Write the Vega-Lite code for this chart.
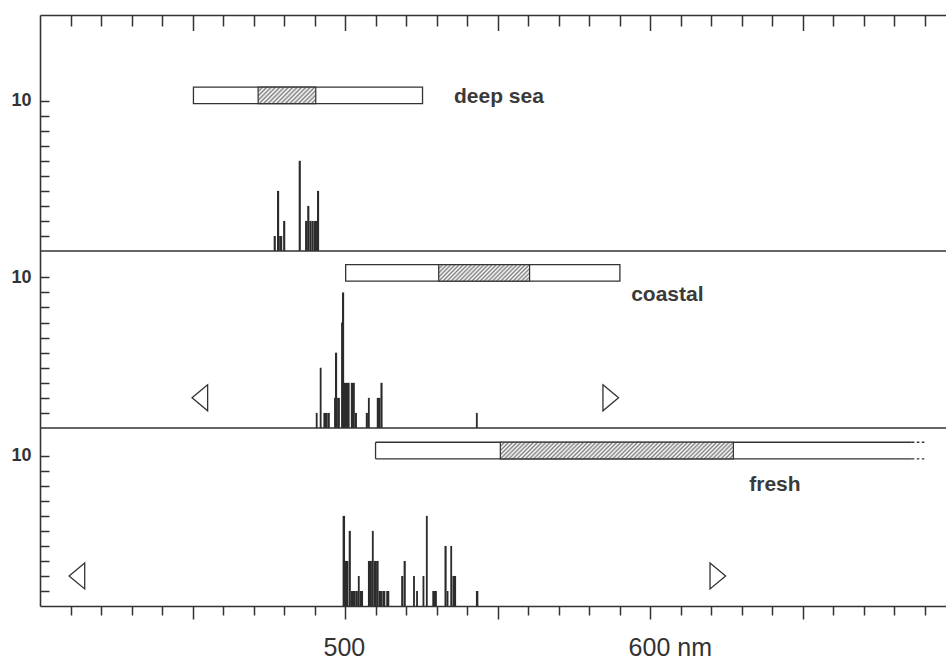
{
  "$schema": "https://vega.github.io/schema/vega-lite/v6.json",
  "background": "white",
  "padding": {"left": 10, "top": 14, "right": 0, "bottom": 0},
  "spacing": 0,
  "bounds": "flush",
  "resolve": {"scale": {"y": "independent"}},
  "config": {
    "view": {"stroke": null},
    "font": "Liberation Sans",
    "axis": {"grid": false, "domainColor": "#333", "domainWidth": 1.6, "tickColor": "#333", "tickWidth": 1.5, "labelColor": "#333", "labelFont": "Liberation Sans"}
  },
  "datasets": {
    "frameticks": [
      {"nm": 410}, {"nm": 420}, {"nm": 430}, {"nm": 440}, {"nm": 450}, {"nm": 460}, {"nm": 470}, {"nm": 480}, {"nm": 490}, {"nm": 500},
      {"nm": 510}, {"nm": 520}, {"nm": 530}, {"nm": 540}, {"nm": 550}, {"nm": 560}, {"nm": 570}, {"nm": 580}, {"nm": 590}, {"nm": 600},
      {"nm": 610}, {"nm": 620}, {"nm": 630}, {"nm": 640}, {"nm": 650}, {"nm": 660}, {"nm": 670}, {"nm": 680}, {"nm": 690}
    ],
    "bars": [
      {"panel": "deep sea", "lo": 476.6, "hi": 477.3, "n": 1},
      {"panel": "deep sea", "lo": 477.7, "hi": 478.4, "n": 4},
      {"panel": "deep sea", "lo": 478.4, "hi": 479.4, "n": 1},
      {"panel": "deep sea", "lo": 479.7, "hi": 480.4, "n": 2},
      {"panel": "deep sea", "lo": 484.8, "hi": 485.5, "n": 6},
      {"panel": "deep sea", "lo": 486.9, "hi": 487.7, "n": 2},
      {"panel": "deep sea", "lo": 487.6, "hi": 488.3, "n": 3},
      {"panel": "deep sea", "lo": 488.3, "hi": 489.0, "n": 2},
      {"panel": "deep sea", "lo": 489.0, "hi": 489.7, "n": 2},
      {"panel": "deep sea", "lo": 489.7, "hi": 490.8, "n": 2},
      {"panel": "deep sea", "lo": 490.8, "hi": 491.5, "n": 4},
      {"panel": "coastal", "lo": 490.4, "hi": 491.0, "n": 1},
      {"panel": "coastal", "lo": 491.7, "hi": 492.3, "n": 4},
      {"panel": "coastal", "lo": 492.9, "hi": 494.2, "n": 1},
      {"panel": "coastal", "lo": 494.2, "hi": 495.0, "n": 1},
      {"panel": "coastal", "lo": 496.4, "hi": 497.2, "n": 2},
      {"panel": "coastal", "lo": 496.7, "hi": 497.4, "n": 5},
      {"panel": "coastal", "lo": 497.4, "hi": 498.3, "n": 2},
      {"panel": "coastal", "lo": 498.7, "hi": 499.3, "n": 7},
      {"panel": "coastal", "lo": 499.0, "hi": 499.7, "n": 9},
      {"panel": "coastal", "lo": 499.3, "hi": 501.5, "n": 3},
      {"panel": "coastal", "lo": 501.9, "hi": 503.2, "n": 3},
      {"panel": "coastal", "lo": 503.2, "hi": 503.9, "n": 1},
      {"panel": "coastal", "lo": 506.8, "hi": 507.5, "n": 1},
      {"panel": "coastal", "lo": 507.5, "hi": 508.1, "n": 2},
      {"panel": "coastal", "lo": 510.4, "hi": 511.6, "n": 2},
      {"panel": "coastal", "lo": 511.6, "hi": 512.3, "n": 3},
      {"panel": "coastal", "lo": 542.9, "hi": 543.5, "n": 1},
      {"panel": "fresh", "lo": 499.2, "hi": 500.0, "n": 6},
      {"panel": "fresh", "lo": 499.6, "hi": 501.1, "n": 3},
      {"panel": "fresh", "lo": 501.2, "hi": 501.9, "n": 5},
      {"panel": "fresh", "lo": 501.9, "hi": 503.5, "n": 1},
      {"panel": "fresh", "lo": 503.5, "hi": 504.2, "n": 1},
      {"panel": "fresh", "lo": 504.2, "hi": 504.8, "n": 2},
      {"panel": "fresh", "lo": 504.8, "hi": 505.9, "n": 1},
      {"panel": "fresh", "lo": 507.5, "hi": 508.8, "n": 3},
      {"panel": "fresh", "lo": 508.8, "hi": 509.4, "n": 5},
      {"panel": "fresh", "lo": 509.4, "hi": 510.3, "n": 3},
      {"panel": "fresh", "lo": 510.2, "hi": 511.0, "n": 3},
      {"panel": "fresh", "lo": 511.0, "hi": 512.1, "n": 1},
      {"panel": "fresh", "lo": 512.2, "hi": 513.2, "n": 1},
      {"panel": "fresh", "lo": 513.5, "hi": 514.5, "n": 1},
      {"panel": "fresh", "lo": 518.4, "hi": 519.1, "n": 2},
      {"panel": "fresh", "lo": 519.2, "hi": 519.9, "n": 3},
      {"panel": "fresh", "lo": 522.3, "hi": 522.9, "n": 2},
      {"panel": "fresh", "lo": 523.3, "hi": 523.9, "n": 1},
      {"panel": "fresh", "lo": 525.4, "hi": 526.0, "n": 2},
      {"panel": "fresh", "lo": 526.5, "hi": 527.1, "n": 6},
      {"panel": "fresh", "lo": 528.6, "hi": 530.1, "n": 1},
      {"panel": "fresh", "lo": 532.6, "hi": 533.3, "n": 4},
      {"panel": "fresh", "lo": 533.3, "hi": 533.9, "n": 1},
      {"panel": "fresh", "lo": 534.5, "hi": 535.1, "n": 4},
      {"panel": "fresh", "lo": 535.2, "hi": 536.4, "n": 2},
      {"panel": "fresh", "lo": 542.9, "hi": 543.7, "n": 1}
    ],
    "boxes": [
      {"panel": "deep sea", "lo": 450.3, "h1": 471.5, "h2": 490.4, "hi": 525.4, "end": 525.4},
      {"panel": "coastal", "lo": 500.2, "h1": 530.7, "h2": 560.5, "hi": 590.1, "end": 590.1},
      {"panel": "fresh", "lo": 510.0, "h1": 550.9, "h2": 627.3, "hi": 685.8, "end": 690.1}
    ],
    "tri": [
      {"panel": "coastal", "nm": 452.4, "n": 2, "side": "left"},
      {"panel": "coastal", "nm": 587.1, "n": 2, "side": "right"},
      {"panel": "fresh", "nm": 412.1, "n": 2, "side": "left"},
      {"panel": "fresh", "nm": 622.2, "n": 2, "side": "right"}
    ]
  },
  "vconcat": [
    {
      "width": 906,
      "height": 1,
      "data": {"name": "frameticks"},
      "mark": {"type": "rule", "opacity": 0},
      "encoding": {
        "x": {"field": "nm", "type": "quantitative", "title": null,
          "scale": {"domain": [400, 697], "nice": false, "zero": false},
          "axis": {"orient": "bottom", "tickCount": 100, "values": [410,420,430,440,450,460,470,480,490,500,510,520,530,540,550,560,570,580,590,600,610,620,630,640,650,660,670,680,690], "labelOpacity": 0, "labelFontSize": 8, "labelFlush": false, "labelOverlap": false, "tickSize": {"condition": {"test": "datum.value % 50 === 0", "value": 15.5}, "value": 11}}},
        "y": {"datum": 0, "type": "quantitative", "title": null, "scale": {"domain": [0, 1]}, "axis": null}
      }
    },
    {
      "width": 906,
      "height": 236,
      "layer": [
        {
          "data": {"name": "bars"},
          "transform": [{"filter": "datum.panel === 'deep sea'"}],
          "mark": {"type": "bar", "color": "#2b2b2b"},
          "encoding": {
            "x": {"field": "lo", "type": "quantitative", "title": null,
              "scale": {"domain": [400, 697], "nice": false, "zero": false}, "axis": null},
            "x2": {"field": "hi"},
            "y": {"field": "n", "type": "quantitative", "title": null,
              "scale": {"domain": [0, 15.7], "nice": false},
              "axis": {"tickCount": 100, "values": [1,2,3,4,5,6,7,8,9,10], "labelExpr": "datum.value === 10 ? '10' : ''", "tickSize": -9, "labelPadding": 18, "labelFontSize": 18, "labelFontWeight": "bold"}},
            "y2": {"datum": 0}
          }
        },
        {
          "data": {"values": [{}]},
          "mark": {"type": "rule", "color": "#333", "strokeWidth": 1.6},
          "encoding": {"y": {"datum": 0, "type": "quantitative", "title": null}}
        },
        {
          "data": {"name": "boxes"},
          "transform": [{"filter": "datum.panel === 'deep sea'"}],
          "mark": {"type": "rect", "fill": "white", "stroke": "#333", "strokeWidth": 1.3},
          "encoding": {
            "x": {"field": "lo", "type": "quantitative", "title": null, "axis": null},
            "x2": {"field": "hi"},
            "y": {"datum": 9.8, "type": "quantitative", "title": null},
            "y2": {"datum": 10.9}
          }
        },
        {
          "data": {"name": "boxes"},
          "transform": [{"filter": "datum.panel === 'deep sea'"}],
          "mark": {"type": "rect", "stroke": "#333", "strokeWidth": 1.2,
            "fill": {"gradient": "linear", "x1": 0, "y1": 0, "x2": 1.188, "y2": 0.338, "stops": [
              {"offset":0,"color":"#808080"},{"offset":0.0294,"color":"#fff"},{"offset":0.0588,"color":"#808080"},{"offset":0.0882,"color":"#fff"},{"offset":0.1176,"color":"#808080"},{"offset":0.1471,"color":"#fff"},{"offset":0.1765,"color":"#808080"},{"offset":0.2059,"color":"#fff"},{"offset":0.2353,"color":"#808080"},{"offset":0.2647,"color":"#fff"},{"offset":0.2941,"color":"#808080"},{"offset":0.3235,"color":"#fff"},{"offset":0.3529,"color":"#808080"},{"offset":0.3824,"color":"#fff"},{"offset":0.4118,"color":"#808080"},{"offset":0.4412,"color":"#fff"},{"offset":0.4706,"color":"#808080"},{"offset":0.5,"color":"#fff"},{"offset":0.5294,"color":"#808080"},{"offset":0.5588,"color":"#fff"},{"offset":0.5882,"color":"#808080"},{"offset":0.6176,"color":"#fff"},{"offset":0.6471,"color":"#808080"},{"offset":0.6765,"color":"#fff"},{"offset":0.7059,"color":"#808080"},{"offset":0.7353,"color":"#fff"},{"offset":0.7647,"color":"#808080"},{"offset":0.7941,"color":"#fff"},{"offset":0.8235,"color":"#808080"},{"offset":0.8529,"color":"#fff"},{"offset":0.8824,"color":"#808080"},{"offset":0.9118,"color":"#fff"},{"offset":0.9412,"color":"#808080"},{"offset":0.9706,"color":"#fff"},{"offset":1,"color":"#808080"}
            ]}},
          "encoding": {
            "x": {"field": "h1", "type": "quantitative", "title": null, "axis": null},
            "x2": {"field": "h2"},
            "y": {"datum": 9.8, "type": "quantitative", "title": null},
            "y2": {"datum": 10.9}
          }
        },
        {
          "data": {"values": [{}]},
          "mark": {"type": "text", "text": "deep sea", "align": "left", "baseline": "middle", "font": "Liberation Sans", "fontWeight": "bold", "fontSize": 21, "color": "#3a3a3a"},
          "encoding": {
            "x": {"datum": 535.7, "type": "quantitative", "title": null, "axis": null},
            "y": {"datum": 10.25, "type": "quantitative", "title": null}
          }
        }
      ]
    },
    {
      "width": 906,
      "height": 177,
      "layer": [
        {
          "data": {"name": "bars"},
          "transform": [{"filter": "datum.panel === 'coastal'"}],
          "mark": {"type": "bar", "color": "#2b2b2b"},
          "encoding": {
            "x": {"field": "lo", "type": "quantitative", "title": null,
              "scale": {"domain": [400, 697], "nice": false, "zero": false}, "axis": null},
            "x2": {"field": "hi"},
            "y": {"field": "n", "type": "quantitative", "title": null,
              "scale": {"domain": [0, 11.75], "nice": false},
              "axis": {"tickCount": 100, "values": [1,2,3,4,5,6,7,8,9,10], "labelExpr": "datum.value === 10 ? '10' : ''", "tickSize": -9, "labelPadding": 18, "labelFontSize": 18, "labelFontWeight": "bold"}},
            "y2": {"datum": 0}
          }
        },
        {
          "data": {"values": [{}]},
          "mark": {"type": "rule", "color": "#333", "strokeWidth": 1.6},
          "encoding": {"y": {"datum": 0, "type": "quantitative", "title": null}}
        },
        {
          "data": {"name": "boxes"},
          "transform": [{"filter": "datum.panel === 'coastal'"}],
          "mark": {"type": "rect", "fill": "white", "stroke": "#333", "strokeWidth": 1.3},
          "encoding": {
            "x": {"field": "lo", "type": "quantitative", "title": null, "axis": null},
            "x2": {"field": "hi"},
            "y": {"datum": 9.75, "type": "quantitative", "title": null},
            "y2": {"datum": 10.85}
          }
        },
        {
          "data": {"name": "boxes"},
          "transform": [{"filter": "datum.panel === 'coastal'"}],
          "mark": {"type": "rect", "stroke": "#333", "strokeWidth": 1.2,
            "fill": {"gradient": "linear", "x1": 0, "y1": 0, "x2": 1.143, "y2": 0.206, "stops": [
              {"offset":0,"color":"#808080"},{"offset":0.0192,"color":"#fff"},{"offset":0.0385,"color":"#808080"},{"offset":0.0577,"color":"#fff"},{"offset":0.0769,"color":"#808080"},{"offset":0.0962,"color":"#fff"},{"offset":0.1154,"color":"#808080"},{"offset":0.1346,"color":"#fff"},{"offset":0.1538,"color":"#808080"},{"offset":0.1731,"color":"#fff"},{"offset":0.1923,"color":"#808080"},{"offset":0.2115,"color":"#fff"},{"offset":0.2308,"color":"#808080"},{"offset":0.25,"color":"#fff"},{"offset":0.2692,"color":"#808080"},{"offset":0.2885,"color":"#fff"},{"offset":0.3077,"color":"#808080"},{"offset":0.3269,"color":"#fff"},{"offset":0.3462,"color":"#808080"},{"offset":0.3654,"color":"#fff"},{"offset":0.3846,"color":"#808080"},{"offset":0.4038,"color":"#fff"},{"offset":0.4231,"color":"#808080"},{"offset":0.4423,"color":"#fff"},{"offset":0.4615,"color":"#808080"},{"offset":0.4808,"color":"#fff"},{"offset":0.5,"color":"#808080"},{"offset":0.5192,"color":"#fff"},{"offset":0.5385,"color":"#808080"},{"offset":0.5577,"color":"#fff"},{"offset":0.5769,"color":"#808080"},{"offset":0.5962,"color":"#fff"},{"offset":0.6154,"color":"#808080"},{"offset":0.6346,"color":"#fff"},{"offset":0.6538,"color":"#808080"},{"offset":0.6731,"color":"#fff"},{"offset":0.6923,"color":"#808080"},{"offset":0.7115,"color":"#fff"},{"offset":0.7308,"color":"#808080"},{"offset":0.75,"color":"#fff"},{"offset":0.7692,"color":"#808080"},{"offset":0.7885,"color":"#fff"},{"offset":0.8077,"color":"#808080"},{"offset":0.8269,"color":"#fff"},{"offset":0.8462,"color":"#808080"},{"offset":0.8654,"color":"#fff"},{"offset":0.8846,"color":"#808080"},{"offset":0.9038,"color":"#fff"},{"offset":0.9231,"color":"#808080"},{"offset":0.9423,"color":"#fff"},{"offset":0.9615,"color":"#808080"},{"offset":0.9808,"color":"#fff"},{"offset":1,"color":"#808080"}
            ]}},
          "encoding": {
            "x": {"field": "h1", "type": "quantitative", "title": null, "axis": null},
            "x2": {"field": "h2"},
            "y": {"datum": 9.75, "type": "quantitative", "title": null},
            "y2": {"datum": 10.85}
          }
        },
        {
          "data": {"name": "tri"},
          "transform": [{"filter": "datum.panel === 'coastal'"}],
          "mark": {"type": "point", "filled": false, "size": 676, "stroke": "#333", "strokeWidth": 1.3, "opacity": 1},
          "encoding": {
            "x": {"field": "nm", "type": "quantitative", "title": null, "axis": null},
            "y": {"field": "n", "type": "quantitative", "title": null},
            "shape": {"field": "side", "type": "nominal", "legend": null,
              "scale": {"domain": ["left", "right"], "range": ["M0.6,-1L-0.6,0L0.6,1Z", "M-0.6,-1L0.6,0L-0.6,1Z"]}}
          }
        },
        {
          "data": {"values": [{}]},
          "mark": {"type": "text", "text": "coastal", "align": "left", "baseline": "middle", "font": "Liberation Sans", "fontWeight": "bold", "fontSize": 21, "color": "#3a3a3a"},
          "encoding": {
            "x": {"datum": 593.8, "type": "quantitative", "title": null, "axis": null},
            "y": {"datum": 8.8, "type": "quantitative", "title": null}
          }
        }
      ]
    },
    {
      "width": 906,
      "height": 178,
      "layer": [
        {
          "data": {"name": "bars"},
          "transform": [{"filter": "datum.panel === 'fresh'"}],
          "mark": {"type": "bar", "color": "#2b2b2b"},
          "encoding": {
            "x": {"field": "lo", "type": "quantitative", "title": null,
              "scale": {"domain": [400, 697], "nice": false, "zero": false},
              "axis": {"orient": "bottom", "tickCount": 100, "values": [410,420,430,440,450,460,470,480,490,500,510,520,530,540,550,560,570,580,590,600,610,620,630,640,650,660,670,680,690], "labelExpr": "datum.value === 500 ? '500' : datum.value === 600 ? '600 nm' : ''", "labelAlign": "left", "labelOffset": -22, "labelFontSize": 25, "labelBaseline": "top", "labelPadding": 16, "labelFlush": false, "labelOverlap": false, "tickSize": {"condition": {"test": "datum.value % 50 === 0", "value": 13}, "value": 9}}},
            "x2": {"field": "hi"},
            "y": {"field": "n", "type": "quantitative", "title": null,
              "scale": {"domain": [0, 11.85], "nice": false},
              "axis": {"tickCount": 100, "values": [1,2,3,4,5,6,7,8,9,10], "labelExpr": "datum.value === 10 ? '10' : ''", "tickSize": -9, "labelPadding": 18, "labelFontSize": 18, "labelFontWeight": "bold"}},
            "y2": {"datum": 0}
          }
        },
        {
          "data": {"name": "boxes"},
          "transform": [{"filter": "datum.panel === 'fresh'"}],
          "mark": {"type": "rule", "color": "#333", "strokeWidth": 1.3},
          "encoding": {
            "x": {"field": "lo", "type": "quantitative", "title": null},
            "x2": {"field": "hi"},
            "y": {"datum": 10.9, "type": "quantitative", "title": null}
          }
        },
        {
          "data": {"name": "boxes"},
          "transform": [{"filter": "datum.panel === 'fresh'"}],
          "mark": {"type": "rule", "color": "#333", "strokeWidth": 1.3},
          "encoding": {
            "x": {"field": "lo", "type": "quantitative", "title": null},
            "x2": {"field": "hi"},
            "y": {"datum": 9.8, "type": "quantitative", "title": null}
          }
        },
        {
          "data": {"name": "boxes"},
          "transform": [{"filter": "datum.panel === 'fresh'"}],
          "mark": {"type": "rule", "color": "#333", "strokeWidth": 1.3},
          "encoding": {
            "x": {"field": "lo", "type": "quantitative", "title": null},
            "y": {"datum": 9.8, "type": "quantitative", "title": null},
            "y2": {"datum": 10.9}
          }
        },
        {
          "data": {"name": "boxes"},
          "transform": [{"filter": "datum.panel === 'fresh'"}],
          "mark": {"type": "rule", "color": "#333", "strokeWidth": 1.3, "strokeDash": [2.5, 2.5]},
          "encoding": {
            "x": {"field": "hi", "type": "quantitative", "title": null},
            "x2": {"field": "end"},
            "y": {"datum": 10.9, "type": "quantitative", "title": null}
          }
        },
        {
          "data": {"name": "boxes"},
          "transform": [{"filter": "datum.panel === 'fresh'"}],
          "mark": {"type": "rule", "color": "#333", "strokeWidth": 1.3, "strokeDash": [2.5, 2.5]},
          "encoding": {
            "x": {"field": "hi", "type": "quantitative", "title": null},
            "x2": {"field": "end"},
            "y": {"datum": 9.8, "type": "quantitative", "title": null}
          }
        },
        {
          "data": {"name": "boxes"},
          "transform": [{"filter": "datum.panel === 'fresh'"}],
          "mark": {"type": "rect", "stroke": "#333", "strokeWidth": 1.2,
            "fill": {"gradient": "linear", "x1": 0, "y1": 0, "x2": 1.066, "y2": 0.0755, "stops": [
              {"offset":0,"color":"#808080"},{"offset":0.0083,"color":"#fff"},{"offset":0.0167,"color":"#808080"},{"offset":0.025,"color":"#fff"},{"offset":0.0333,"color":"#808080"},{"offset":0.0417,"color":"#fff"},{"offset":0.05,"color":"#808080"},{"offset":0.0583,"color":"#fff"},{"offset":0.0667,"color":"#808080"},{"offset":0.075,"color":"#fff"},{"offset":0.0833,"color":"#808080"},{"offset":0.0917,"color":"#fff"},
              {"offset":0.1,"color":"#808080"},{"offset":0.1083,"color":"#fff"},{"offset":0.1167,"color":"#808080"},{"offset":0.125,"color":"#fff"},{"offset":0.1333,"color":"#808080"},{"offset":0.1417,"color":"#fff"},{"offset":0.15,"color":"#808080"},{"offset":0.1583,"color":"#fff"},{"offset":0.1667,"color":"#808080"},{"offset":0.175,"color":"#fff"},{"offset":0.1833,"color":"#808080"},{"offset":0.1917,"color":"#fff"},
              {"offset":0.2,"color":"#808080"},{"offset":0.2083,"color":"#fff"},{"offset":0.2167,"color":"#808080"},{"offset":0.225,"color":"#fff"},{"offset":0.2333,"color":"#808080"},{"offset":0.2417,"color":"#fff"},{"offset":0.25,"color":"#808080"},{"offset":0.2583,"color":"#fff"},{"offset":0.2667,"color":"#808080"},{"offset":0.275,"color":"#fff"},{"offset":0.2833,"color":"#808080"},{"offset":0.2917,"color":"#fff"},
              {"offset":0.3,"color":"#808080"},{"offset":0.3083,"color":"#fff"},{"offset":0.3167,"color":"#808080"},{"offset":0.325,"color":"#fff"},{"offset":0.3333,"color":"#808080"},{"offset":0.3417,"color":"#fff"},{"offset":0.35,"color":"#808080"},{"offset":0.3583,"color":"#fff"},{"offset":0.3667,"color":"#808080"},{"offset":0.375,"color":"#fff"},{"offset":0.3833,"color":"#808080"},{"offset":0.3917,"color":"#fff"},
              {"offset":0.4,"color":"#808080"},{"offset":0.4083,"color":"#fff"},{"offset":0.4167,"color":"#808080"},{"offset":0.425,"color":"#fff"},{"offset":0.4333,"color":"#808080"},{"offset":0.4417,"color":"#fff"},{"offset":0.45,"color":"#808080"},{"offset":0.4583,"color":"#fff"},{"offset":0.4667,"color":"#808080"},{"offset":0.475,"color":"#fff"},{"offset":0.4833,"color":"#808080"},{"offset":0.4917,"color":"#fff"},
              {"offset":0.5,"color":"#808080"},{"offset":0.5083,"color":"#fff"},{"offset":0.5167,"color":"#808080"},{"offset":0.525,"color":"#fff"},{"offset":0.5333,"color":"#808080"},{"offset":0.5417,"color":"#fff"},{"offset":0.55,"color":"#808080"},{"offset":0.5583,"color":"#fff"},{"offset":0.5667,"color":"#808080"},{"offset":0.575,"color":"#fff"},{"offset":0.5833,"color":"#808080"},{"offset":0.5917,"color":"#fff"},
              {"offset":0.6,"color":"#808080"},{"offset":0.6083,"color":"#fff"},{"offset":0.6167,"color":"#808080"},{"offset":0.625,"color":"#fff"},{"offset":0.6333,"color":"#808080"},{"offset":0.6417,"color":"#fff"},{"offset":0.65,"color":"#808080"},{"offset":0.6583,"color":"#fff"},{"offset":0.6667,"color":"#808080"},{"offset":0.675,"color":"#fff"},{"offset":0.6833,"color":"#808080"},{"offset":0.6917,"color":"#fff"},
              {"offset":0.7,"color":"#808080"},{"offset":0.7083,"color":"#fff"},{"offset":0.7167,"color":"#808080"},{"offset":0.725,"color":"#fff"},{"offset":0.7333,"color":"#808080"},{"offset":0.7417,"color":"#fff"},{"offset":0.75,"color":"#808080"},{"offset":0.7583,"color":"#fff"},{"offset":0.7667,"color":"#808080"},{"offset":0.775,"color":"#fff"},{"offset":0.7833,"color":"#808080"},{"offset":0.7917,"color":"#fff"},
              {"offset":0.8,"color":"#808080"},{"offset":0.8083,"color":"#fff"},{"offset":0.8167,"color":"#808080"},{"offset":0.825,"color":"#fff"},{"offset":0.8333,"color":"#808080"},{"offset":0.8417,"color":"#fff"},{"offset":0.85,"color":"#808080"},{"offset":0.8583,"color":"#fff"},{"offset":0.8667,"color":"#808080"},{"offset":0.875,"color":"#fff"},{"offset":0.8833,"color":"#808080"},{"offset":0.8917,"color":"#fff"},
              {"offset":0.9,"color":"#808080"},{"offset":0.9083,"color":"#fff"},{"offset":0.9167,"color":"#808080"},{"offset":0.925,"color":"#fff"},{"offset":0.9333,"color":"#808080"},{"offset":0.9417,"color":"#fff"},{"offset":0.95,"color":"#808080"},{"offset":0.9583,"color":"#fff"},{"offset":0.9667,"color":"#808080"},{"offset":0.975,"color":"#fff"},{"offset":0.9833,"color":"#808080"},{"offset":0.9917,"color":"#fff"},
              {"offset":1,"color":"#808080"}
            ]}},
          "encoding": {
            "x": {"field": "h1", "type": "quantitative", "title": null},
            "x2": {"field": "h2"},
            "y": {"datum": 9.8, "type": "quantitative", "title": null},
            "y2": {"datum": 10.9}
          }
        },
        {
          "data": {"name": "tri"},
          "transform": [{"filter": "datum.panel === 'fresh'"}],
          "mark": {"type": "point", "filled": false, "size": 676, "stroke": "#333", "strokeWidth": 1.3, "opacity": 1},
          "encoding": {
            "x": {"field": "nm", "type": "quantitative", "title": null},
            "y": {"field": "n", "type": "quantitative", "title": null},
            "shape": {"field": "side", "type": "nominal", "legend": null,
              "scale": {"domain": ["left", "right"], "range": ["M0.6,-1L-0.6,0L0.6,1Z", "M-0.6,-1L0.6,0L-0.6,1Z"]}}
          }
        },
        {
          "data": {"values": [{}]},
          "mark": {"type": "text", "text": "fresh", "align": "left", "baseline": "middle", "font": "Liberation Sans", "fontWeight": "bold", "fontSize": 21, "color": "#3a3a3a"},
          "encoding": {
            "x": {"datum": 632.5, "type": "quantitative", "title": null},
            "y": {"datum": 8.07, "type": "quantitative", "title": null}
          }
        }
      ]
    }
  ]
}
